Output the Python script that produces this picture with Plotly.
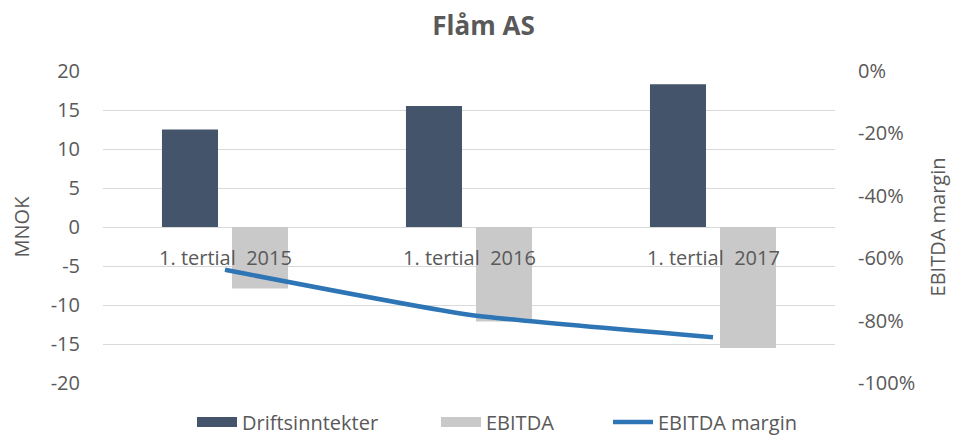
import plotly.graph_objects as go

categories = ["1. tertial  2015", "1. tertial  2016", "1. tertial  2017"]
driftsinntekter = [12.5, 15.5, 18.3]
ebitda = [-7.9, -12.1, -15.5]
ebitda_margin = [-0.637, -0.781, -0.853]

left_ticks = [20, 15, 10, 5, 0, -5, -10, -15, -20]
left_ticktext = ["20", "15", "10", "5", "0", "-5", "-10", "-15", "-20"]
right_ticks = [0, -0.2, -0.4, -0.6, -0.8, -1.0]
right_ticktext = ["0%", "-20%", "-40%", "-60%", "-80%", "-100%"]

FONT = "Open Sans"
TXT = "#595959"
FS = 20
C_DRIFT = "#44546a"
C_EBITDA = "#c9c9c9"
C_MARGIN = "#2e75b6"

# the page body has an 8px margin on every side, so the figure must fit in 943x431
W, H = 943, 431

fig = go.Figure()
fig.add_trace(go.Bar(x=categories, y=driftsinntekter, name="Driftsinntekter",
                     marker=dict(color=C_DRIFT, line=dict(width=0)), showlegend=False))
fig.add_trace(go.Bar(x=categories, y=ebitda, name="EBITDA",
                     marker=dict(color=C_EBITDA, line=dict(width=0)), showlegend=False))
fig.add_trace(go.Scatter(x=categories, y=ebitda_margin, name="EBITDA margin",
                         yaxis="y2", mode="lines", showlegend=False,
                         line=dict(color=C_MARGIN, width=4.5, shape="spline", smoothing=0.5)))

# legend entries (wide swatches like the original), each in its own legend box
fig.add_trace(go.Scatter(x=[None], y=[None], name="Driftsinntekter", mode="lines",
                         line=dict(color=C_DRIFT, width=13), legend="legend"))
fig.add_trace(go.Scatter(x=[None], y=[None], name="EBITDA", mode="lines",
                         line=dict(color=C_EBITDA, width=13), legend="legend2"))
fig.add_trace(go.Scatter(x=[None], y=[None], name="EBITDA margin", mode="lines",
                         line=dict(color=C_MARGIN, width=4.5), legend="legend3"))

for c in categories:
    fig.add_annotation(x=c, y=0, xref="x", yref="y", text=c, showarrow=False,
                       yanchor="top", yshift=-15, font=dict(family=FONT, size=FS, color=TXT))

def leg(xpx):
    return dict(orientation="h", xref="container", x=xpx / W, xanchor="left",
                yref="container", y=1 - 414 / H, yanchor="middle",
                font=dict(family=FONT, size=FS, color=TXT), itemwidth=40,
                bgcolor="rgba(0,0,0,0)", borderwidth=0)

fig.update_layout(
    template="none",
    width=W, height=H,
    margin=dict(l=95, r=116, t=63, b=56, autoexpand=False),
    paper_bgcolor="white", plot_bgcolor="white",
    font=dict(family=FONT, size=FS, color=TXT),
    title=dict(text="<b>Flåm AS</b>", x=475.5 / W, xanchor="center", y=1 - 17.5 / H, yanchor="middle",
               font=dict(family=FONT, size=26, color=TXT)),
    barmode="group", bargap=0.426, bargroupgap=0.2,
    showlegend=True,
    legend=leg(184),
    legend2=leg(428),
    legend3=leg(600),
    xaxis=dict(type="category", showticklabels=False, showgrid=False, zeroline=False,
               showline=False, automargin=False),
    yaxis=dict(range=[-20, 20], tickvals=left_ticks, ticktext=left_ticktext,
               showgrid=True, gridcolor="#d9d9d9", gridwidth=1, zeroline=False,
               ticks="", ticklabelstandoff=22, automargin=False, showline=False,
               tickfont=dict(family=FONT, size=FS, color=TXT),
               title=dict(text="MNOK", standoff=19, font=dict(family=FONT, size=FS, color=TXT))),
    yaxis2=dict(range=[-1, 0], overlaying="y", side="right", tickvals=right_ticks,
                ticktext=right_ticktext, showgrid=False, zeroline=False, ticks="",
                ticklabelstandoff=22, automargin=False, showline=False,
                tickfont=dict(family=FONT, size=FS, color=TXT),
                title=dict(text="EBITDA margin", standoff=20, font=dict(family=FONT, size=FS, color=TXT))),
)

fig.write_html("out.html")
